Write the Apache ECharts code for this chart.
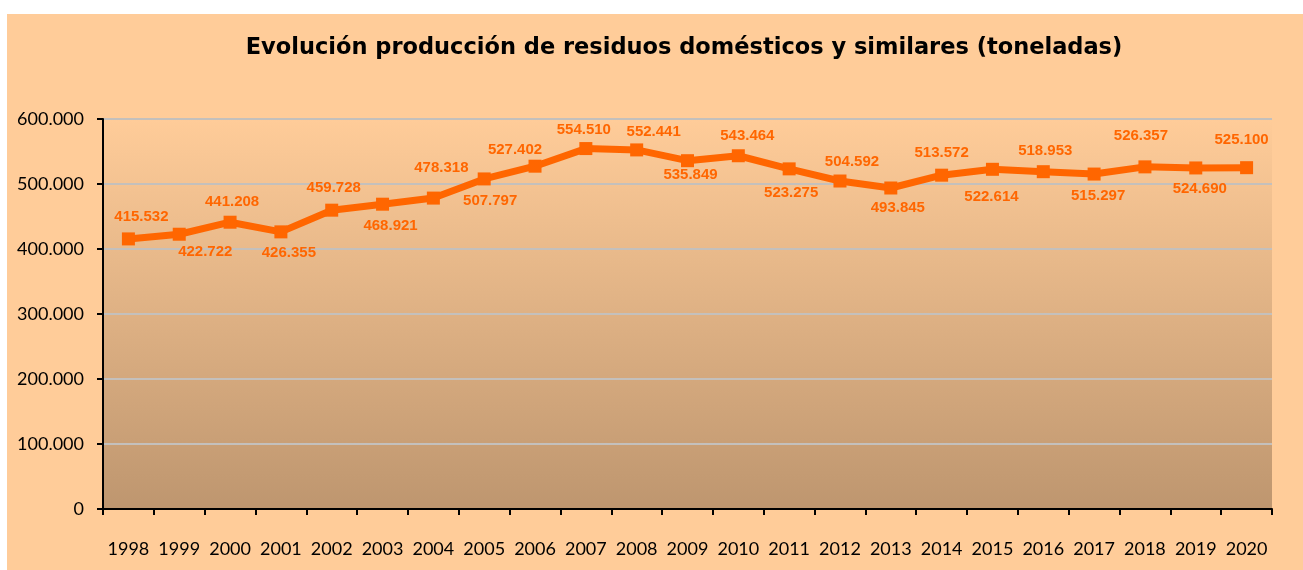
<!DOCTYPE html>
<html>
<head>
<meta charset="utf-8">
<script src="https://cdn.jsdelivr.net/npm/echarts@6/dist/echarts.min.js"></script>
<style>
  html, body { margin: 0; padding: 0; background: #fff; }
  #chart { position: absolute; left: 7px; top: 14px; width: 1296px; height: 556px; }
</style>
</head>
<body>
<div id="chart"></div>
<script>
// datos
var years = ['1998', '1999', '2000', '2001', '2002', '2003', '2004', '2005', '2006', '2007', '2008',
  '2009', '2010', '2011', '2012', '2013', '2014', '2015', '2016', '2017', '2018', '2019', '2020'];
var toneladas = [415532, 422722, 441208, 426355, 459728, 468921, 478318, 507797, 527402, 554510, 552441,
  535849, 543464, 523275, 504592, 493845, 513572, 522614, 518953, 515297, 526357, 524690, 525100];

function miles(v) {
  return String(v).replace(/\B(?=(\d{3})+(?!\d))/g, '.');
}

// desplazamiento de cada etiqueta respecto a su punto (colocadas a mano en el original)
var etiquetaOffset = [[13, -22], [26, 18], [2, -20], [8, 21], [2, -22], [8, 22], [8, -30], [6, 22],
  [-20, -16], [-2, -19], [17, -18], [3, 14], [9, -20], [2, 24], [12, -19], [7, 20], [0, -22],
  [-1, 28], [2, -21], [4, 22], [-4, -31], [4, 21], [-5, -28]];

var myChart = echarts.init(document.getElementById('chart'));
myChart.setOption({
  backgroundColor: '#FFCC99',
  animation: false,
  title: {
    text: 'Evolución producción de residuos domésticos y similares (toneladas)',
    left: 672,
    textAlign: 'center',
    top: 18,
    textStyle: {
      fontFamily: 'DejaVu Sans',
      fontWeight: 'bold',
      fontSize: 22.5,
      color: '#000'
    }
  },
  grid: {
    left: 96,
    right: 31,
    top: 105,
    bottom: 61,
    show: true,
    borderWidth: 0,
    backgroundColor: new echarts.graphic.LinearGradient(0, 0, 0, 1, [
      { offset: 0, color: '#FFCC99' },
      { offset: 1, color: '#BE966F' }
    ])
  },
  xAxis: {
    type: 'category',
    data: years,
    boundaryGap: true,
    axisLine: { lineStyle: { color: '#000', width: 2 } },
    axisTick: { show: true, length: 6, lineStyle: { color: '#000', width: 2 } },
    axisLabel: {
      margin: 31,
      color: '#000',
      fontFamily: 'Lato',
      fontSize: 18,
      interval: 0
    }
  },
  yAxis: {
    type: 'value',
    min: 0,
    max: 600000,
    interval: 100000,
    axisLine: { show: true, lineStyle: { color: '#000', width: 2 } },
    axisTick: { show: true, length: 6, lineStyle: { color: '#000', width: 2 } },
    axisLabel: {
      margin: 19,
      color: '#000',
      fontFamily: 'Lato',
      fontSize: 18,
      formatter: function (v) { return miles(v); }
    },
    splitLine: { lineStyle: { color: '#C4C0BC', width: 2 } }
  },
  series: [{
    type: 'line',
    data: toneladas.map(function (v, i) {
      return { value: v, label: { offset: etiquetaOffset[i] } };
    }),
    symbol: 'rect',
    symbolSize: 13,
    lineStyle: { color: '#FF6600', width: 7 },
    itemStyle: { color: '#FF6600' },
    label: {
      show: true,
      position: 'inside',
      color: '#FF6600',
      fontFamily: 'Liberation Sans',
      fontWeight: 'bold',
      fontSize: 15,
      formatter: function (p) { return miles(p.value); }
    }
  }]
});
</script>
</body>
</html>
